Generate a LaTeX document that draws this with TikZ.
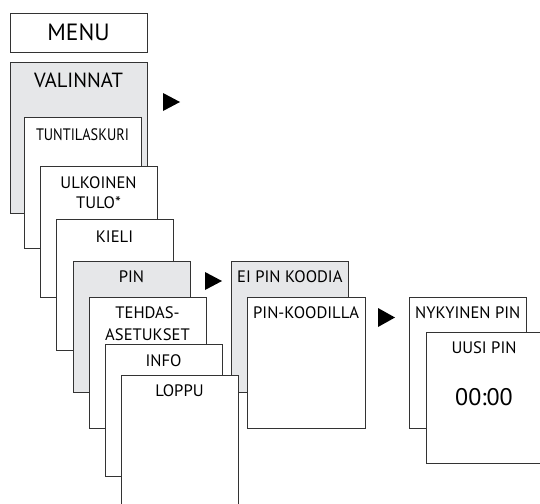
\documentclass[tikz,border=0pt]{standalone}
\usepackage{fontspec}
\setmainfont{PT Sans}
\definecolor{boxline}{HTML}{333333}
\definecolor{boxgray}{HTML}{E6E7E9}
\begin{document}
\begin{tikzpicture}[x=1pt,y=-1pt,
  card/.style={draw=boxline,line width=0.9pt,fill=white},
  graycard/.style={draw=boxline,line width=0.9pt,fill=boxgray},
  lbl/.style={inner sep=0pt,font=\fontsize{16.6}{18}\selectfont,text=black},
  tri/.style={fill=black,draw=none}]
\useasboundingbox (0,0) rectangle (540,503);
% right side
\path[graycard] (231,261) rectangle (348,392);
\node[lbl,anchor=west] (eipin) at (237,277) {EI PIN KOODIA};
\path[card] (247,297) rectangle (365,428);
\node[lbl,anchor=west] (pinkood) at (253,313) {PIN-KOODILLA};
\path[card] (409,297) rectangle (526,428);
\node[lbl,anchor=west] (nyk) at (415,313) {NYKYINEN PIN};
\path[card] (426,332) rectangle (545,463);
\node[lbl] (uusi) at (484,348) {UUSI PIN};
\node[lbl,font=\fontsize{24}{26}\selectfont] (time) at (484,397) {00:00};
% left stack
\path[card] (10,13) rectangle (147,52);
\node[lbl,font=\fontsize{23.5}{26}\selectfont] (menu) at (78.5,32) {MENU};
\path[graycard] (10,62) rectangle (147,213);
\node[lbl,font=\fontsize{20.5}{22}\selectfont] (val) at (78.5,80) {VALINNAT};
\path[card] (24,117) rectangle (141,248);
\node[lbl] (tunti) at (82.5,135) {\scalebox{0.86}[1]{TUNTILASKURI}};
\path[card] (40,166) rectangle (157,297);
\node[lbl,align=center,font=\fontsize{16.6}{20}\selectfont] (ulk) at (98.5,193) {ULKOINEN\\TULO*};
\path[card] (56,219) rectangle (173,350);
\node[lbl] (kieli) at (114.5,237) {KIELI};
\path[graycard] (73,261) rectangle (190,392);
\node[lbl] (pin) at (131.5,277) {PIN};
\path[card] (89,297) rectangle (206,428);
\node[lbl,align=center,font=\fontsize{16.6}{22}\selectfont] (tehdas) at (147.5,324) {TEHDAS-\\ASETUKSET};
\path[card] (105,344) rectangle (222,476);
\node[lbl] (info) at (163.5,361) {INFO};
\path[card] (121,375) rectangle (238,510);
\node[lbl] (loppu) at (179.5,391) {LOPPU};
% arrows
\path[tri] (163,93) -- (180,102) -- (163,111) -- cycle;
\path[tri] (205,272) -- (222,281) -- (205,290) -- cycle;
\path[tri] (378,308) -- (395,317.5) -- (378,327) -- cycle;
\end{tikzpicture}
\end{document}
